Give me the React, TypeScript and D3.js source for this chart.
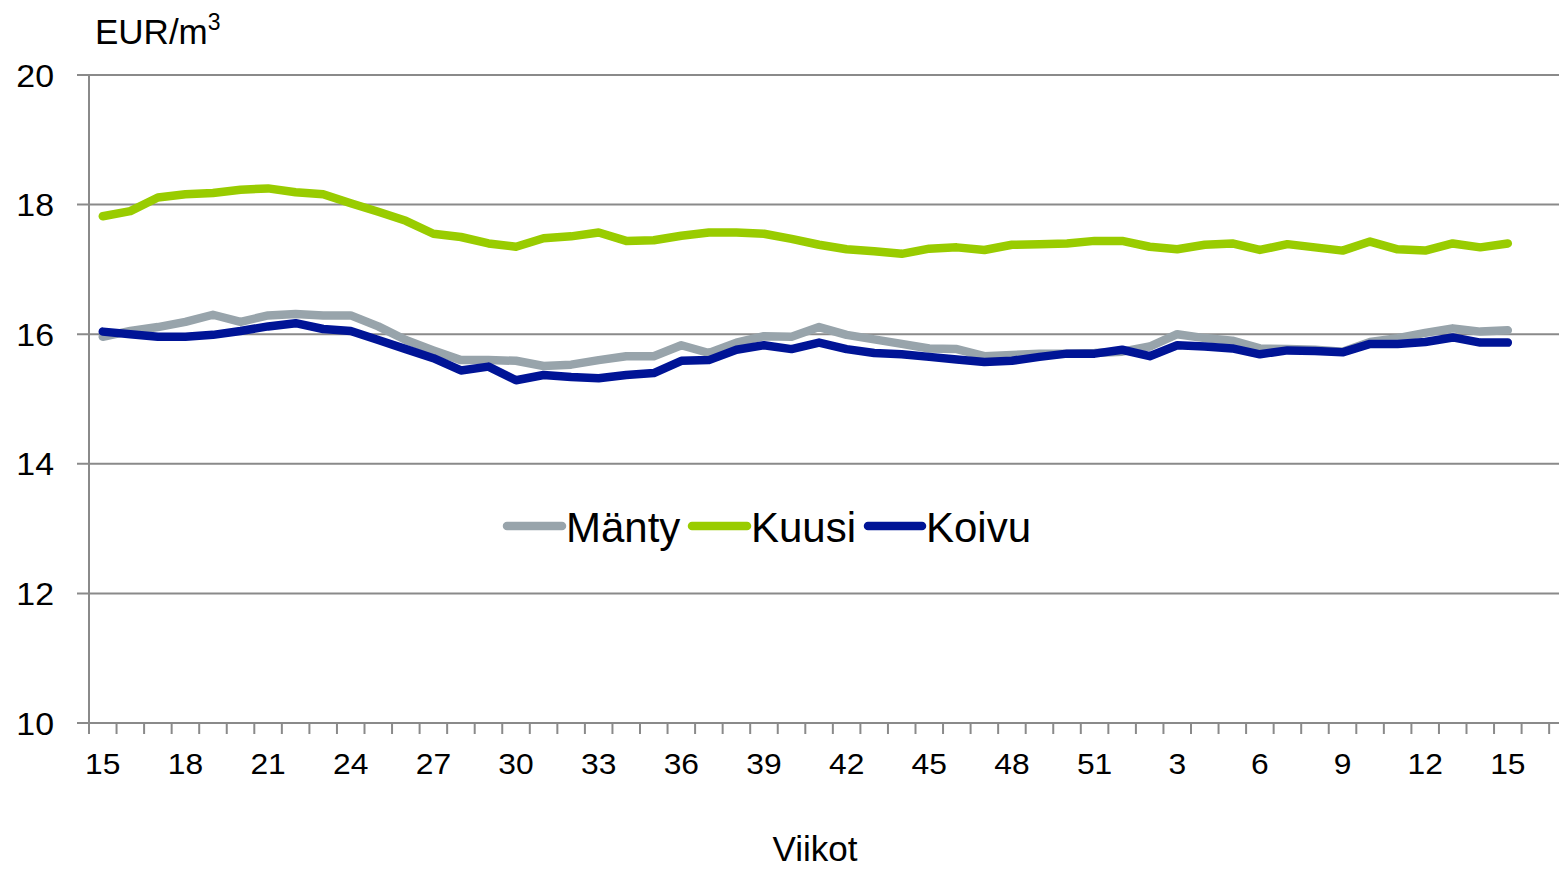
import React from 'react';
import * as d3 from 'd3';

// Week labels (week 1 missing from the source series)
const weeks = [
    15, 16, 17, 18, 19, 20, 21, 22, 23, 24, 25, 26, 27, 28, 29, 30, 31, 32, 33, 34, 35, 36, 37, 38, 39, 40, 41, 42, 43,
    44, 45, 46, 47, 48, 49, 50, 51, 52, 2, 3, 4, 5, 6, 7, 8, 9, 10, 11, 12, 13, 14, 15,
];

const manty = [
    15.96, 16.05, 16.11, 16.19, 16.3, 16.19, 16.29, 16.31, 16.29, 16.29, 16.12, 15.91, 15.75, 15.6, 15.6, 15.59, 15.51,
    15.53, 15.6, 15.66, 15.66, 15.83, 15.71, 15.87, 15.97, 15.96, 16.11, 15.99, 15.92, 15.85, 15.78, 15.77, 15.66, 15.68,
    15.7, 15.7, 15.71, 15.73, 15.81, 16.0, 15.94, 15.9, 15.78, 15.77, 15.76, 15.73, 15.88, 15.94, 16.02, 16.09, 16.04,
    16.06,
];

const kuusi = [
    17.82, 17.9, 18.11, 18.16, 18.18, 18.23, 18.25, 18.19, 18.16, 18.02, 17.89, 17.75, 17.55, 17.5, 17.4, 17.35, 17.48,
    17.51, 17.57, 17.44, 17.45, 17.52, 17.57, 17.57, 17.55, 17.47, 17.38, 17.31, 17.28, 17.24, 17.32, 17.34, 17.3, 17.38,
    17.39, 17.4, 17.44, 17.44, 17.35, 17.31, 17.38, 17.4, 17.3, 17.39, 17.34, 17.29, 17.43, 17.31, 17.29, 17.4, 17.34,
    17.4,
];

const koivu = [
    16.04, 16.0, 15.96, 15.96, 15.99, 16.05, 16.12, 16.17, 16.08, 16.05, 15.91, 15.77, 15.63, 15.44, 15.5, 15.29, 15.37,
    15.34, 15.32, 15.37, 15.4, 15.59, 15.6, 15.76, 15.83, 15.77, 15.87, 15.77, 15.71, 15.69, 15.65, 15.61, 15.57, 15.59,
    15.65, 15.7, 15.7, 15.76, 15.66, 15.83, 15.81, 15.78, 15.69, 15.75, 15.74, 15.72, 15.85, 15.85, 15.88, 15.95, 15.87,
    15.87,
];

const yTicks = [10, 12, 14, 16, 18, 20];

const seriesList = [
    { name: 'Mänty', values: manty, color: '#98a4ab' },
    { name: 'Kuusi', values: kuusi, color: '#99cc00' },
    { name: 'Koivu', values: koivu, color: '#001496' },
];

const W = 1559;
const H = 869;
const left = 89;
const top = 75;
const bottom = 723;
const step = 27.55;

const App = () => {
    const x = d3
        .scaleLinear()
        .domain([-0.5, weeks.length - 0.5])
        .range([left, left + weeks.length * step]);
    const y = d3.scaleLinear().domain([10, 20]).range([bottom, top]);

    const line = d3
        .line<number>()
        .x((d, i) => x(i))
        .y((d) => y(d));

    // tick marks between categories, continuing to the cropped right edge
    const tickIdx = d3.range(0, 60).map((k) => k - 0.5).filter((k) => x(k) <= W);

    const font = '"Liberation Sans", Arial, sans-serif';
    const gridColor = '#8a8a8a';

    const legendItems = [
        { x0: 507, x1: 562, tx: 566 },
        { x0: 692, x1: 747, tx: 751 },
        { x0: 868, x1: 922, tx: 926 },
    ];

    return (
        <svg
            width={W}
            height={H}
            style={{ position: 'fixed', left: 0, top: 0, background: '#fff' }}
            fontFamily={font}
        >
            {/* gridlines */}
            {yTicks.map((t) => (
                <line key={t} x1={77} x2={W} y1={y(t)} y2={y(t)} stroke={gridColor} strokeWidth={2} />
            ))}
            {/* y axis */}
            <line x1={left} x2={left} y1={top} y2={bottom} stroke={gridColor} strokeWidth={2} />
            {yTicks.map((t) => (
                <text
                    key={'yl' + t}
                    transform={`translate(54,${y(t) + 11.5}) scale(1.06,1)`}
                    textAnchor="end"
                    fontSize={32}
                    fill="#000"
                >
                    {t}
                </text>
            ))}
            {/* x axis ticks */}
            {tickIdx.map((k) => (
                <line key={'xt' + k} x1={x(k)} x2={x(k)} y1={bottom} y2={bottom + 11} stroke={gridColor} strokeWidth={2} />
            ))}
            {weeks.map((w, i) =>
                i % 3 === 0 ? (
                    <text
                        key={'xl' + i}
                        transform={`translate(${x(i)},${bottom + 51}) scale(1.06,1)`}
                        textAnchor="middle"
                        fontSize={30}
                        fill="#000"
                    >
                        {w}
                    </text>
                ) : null
            )}
            {/* series */}
            {seriesList.map((s) => (
                <path
                    key={s.name}
                    d={line(s.values) || ''}
                    fill="none"
                    stroke={s.color}
                    strokeWidth={8.5}
                    strokeLinejoin="round"
                    strokeLinecap="round"
                />
            ))}
            {/* legend */}
            {seriesList.map((s, i) => (
                <g key={'lg' + s.name}>
                    <line
                        x1={legendItems[i].x0}
                        x2={legendItems[i].x1}
                        y1={526}
                        y2={526}
                        stroke={s.color}
                        strokeWidth={8.5}
                        strokeLinecap="round"
                    />
                    <text x={legendItems[i].tx} y={542} fontSize={42} fill="#000">
                        {s.name}
                    </text>
                </g>
            ))}
            {/* titles */}
            <text x={95} y={44} fontSize={35} fill="#000">
                EUR/m<tspan fontSize={23} dy={-14}>3</tspan>
            </text>
            <text x={815} y={861} textAnchor="middle" fontSize={35} fill="#000">
                Viikot
            </text>
        </svg>
    );
};

export default App;
